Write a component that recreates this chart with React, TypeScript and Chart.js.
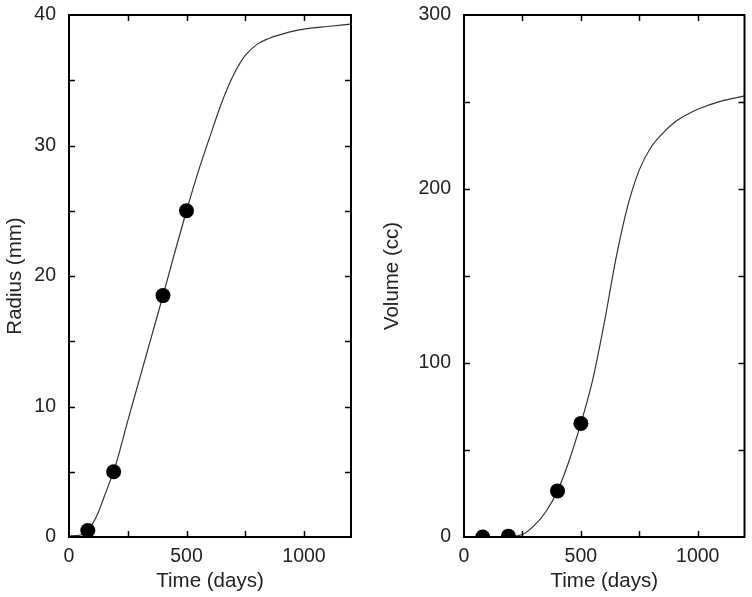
import React, { useEffect, useRef } from 'react';
import { Chart, registerables } from 'chart.js';

Chart.register(...registerables);

const FONT = "'Liberation Sans', Arial, Helvetica, sans-serif";

// Tick labels and tick-mark positions
const timeTickLabels = [0, 500, 1000];
const timeTickMarks = [250, 500, 750, 1000];
const radiusTickLabels = [0, 10, 20, 30, 40];
const radiusTickMarks = [5, 10, 15, 20, 25, 30, 35];
const volumeTickLabels = [0, 100, 200, 300];
const volumeTickMarks = [50, 100, 150, 200, 250];

// Observed data (filled circles)
const obsTimeRadius = [80, 190, 400, 500];
const obsRadius = [0.5, 5, 18.5, 25];
const obsTimeVolume = [80, 190, 400, 500];
const obsVolume = [0, 0.5, 26.5, 65.3];

// Fitted curves
const fitTimeRadius = [0, 25, 50, 80, 100, 125, 150, 175, 200, 250, 300, 350, 400, 450, 500, 550, 600, 650, 700, 750, 800, 850, 900, 950, 1000, 1100, 1200];
const fitRadius = [0.08, 0.1, 0.15, 0.5, 1.0, 1.9, 3.1, 4.3, 5.6, 8.9, 12.1, 15.3, 18.5, 21.8, 25.0, 28.0, 30.7, 33.3, 35.4, 36.9, 37.75, 38.2, 38.5, 38.75, 38.92, 39.12, 39.3];
const fitTimeVolume = [0, 50, 100, 150, 200, 250, 300, 350, 400, 450, 500, 550, 600, 650, 700, 750, 800, 850, 900, 950, 1000, 1100, 1200];
const fitVolume = [0, 0, 0, 0.1, 0.3, 1.4, 6.5, 14.5, 26.5, 44, 65.3, 90, 123, 160, 190, 211, 224, 232, 238.2, 242.5, 245.8, 250.5, 253.5];

const frameTicks = {
  id: 'frameTicks',
  afterDraw(chart: any, _args: any, opts: any) {
    const { ctx, chartArea } = chart;
    const { left, right, top, bottom } = chartArea;
    const xs = chart.scales.x;
    const ys = chart.scales.y;
    const len = 6;
    ctx.save();
    ctx.strokeStyle = '#000';
    ctx.lineWidth = 1.5;
    ctx.beginPath();
    for (const v of opts.xMarks) {
      const px = Math.round(xs.getPixelForValue(v)) + 0.5;
      ctx.moveTo(px, bottom);
      ctx.lineTo(px, bottom - len);
      ctx.moveTo(px, top);
      ctx.lineTo(px, top + len);
    }
    for (const v of opts.yMarks) {
      const py = Math.round(ys.getPixelForValue(v)) + 0.5;
      ctx.moveTo(left, py);
      ctx.lineTo(left + len, py);
      ctx.moveTo(right, py);
      ctx.lineTo(right - len, py);
    }
    ctx.stroke();
    ctx.lineWidth = 2;
    ctx.strokeRect(left, top, right - left, bottom - top);
    ctx.restore();
  },
};

type PanelProps = {
  left: number;
  axisWidth: number;
  rightPad: number;
  titlePad: number;
  yMax: number;
  yLabels: number[];
  yMarks: number[];
  yTitle: string;
  obsX: number[];
  obsY: number[];
  fitX: number[];
  fitY: number[];
};

function Panel(p: PanelProps) {
  const ref = useRef<HTMLCanvasElement | null>(null);
  useEffect(() => {
    if (!ref.current) return;
    const chart = new Chart(ref.current, {
      type: 'scatter',
      data: {
        datasets: [
          {
            data: p.obsX.map((x, i) => ({ x, y: p.obsY[i] })),
            pointRadius: 7.5,
            pointHoverRadius: 7.5,
            pointBackgroundColor: '#000',
            pointBorderColor: '#000',
            pointBorderWidth: 0,
            showLine: false,
          },
          {
            data: p.fitX.map((x, i) => ({ x, y: p.fitY[i] })),
            showLine: true,
            pointRadius: 0,
            borderColor: '#333',
            borderWidth: 1.2,
            cubicInterpolationMode: 'monotone',
          },
        ],
      },
      options: {
        responsive: false,
        animation: false,
        devicePixelRatio: 1,
        layout: { padding: { top: 15, right: p.rightPad, left: 0, bottom: 0 } },
        plugins: {
          legend: { display: false },
          tooltip: { enabled: false },
          frameTicks: { xMarks: timeTickMarks, yMarks: p.yMarks },
        } as any,
        scales: {
          x: {
            type: 'linear',
            min: 0,
            max: 1200,
            grid: { display: false, drawTicks: false },
            border: { display: false },
            afterBuildTicks: (s: any) => {
              s.ticks = timeTickLabels.map((v) => ({ value: v }));
            },
            afterFit: (s: any) => {
              s.height = 60;
              s.paddingLeft = 0;
              s.paddingRight = 0;
            },
            ticks: {
              padding: 8,
              color: '#222',
              font: { family: FONT, size: 19.5 },
              maxRotation: 0,
              callback: (v: any) => String(v),
            },
            title: {
              display: true,
              text: 'Time (days)',
              color: '#222',
              font: { family: FONT, size: 20.5 },
              padding: { top: 0, bottom: 3.7 },
            },
          },
          y: {
            type: 'linear',
            min: 0,
            max: p.yMax,
            grid: { display: false, drawTicks: false },
            border: { display: false },
            afterBuildTicks: (s: any) => {
              s.ticks = p.yLabels.map((v) => ({ value: v }));
            },
            afterFit: (s: any) => {
              s.width = p.axisWidth;
              s.paddingTop = 0;
              s.paddingBottom = 0;
            },
            ticks: {
              padding: 13,
              color: '#222',
              font: { family: FONT, size: 19.5 },
              callback: (v: any) => String(v),
            },
            title: {
              display: true,
              text: p.yTitle,
              color: '#222',
              font: { family: FONT, size: 20.5 },
              padding: { top: p.titlePad, bottom: 0 },
            },
          },
        },
      },
      plugins: [frameTicks],
    } as any);
    return () => chart.destroy();
  }, []);
  return (
    <div style={{ position: 'absolute', left: p.left, top: 0, width: 376, height: 597 }}>
      <canvas ref={ref} width={376} height={597} style={{ width: 376, height: 597, display: 'block' }} />
    </div>
  );
}

export default function App() {
  return (
    <div style={{ position: 'absolute', left: 0, top: 0, width: 752, height: 597, background: '#fff' }}>
      <Panel
        left={0}
        axisWidth={69}
        rightPad={25}
        titlePad={2.7}
        yMax={40}
        yLabels={radiusTickLabels}
        yMarks={radiusTickMarks}
        yTitle="Radius (mm)"
        obsX={obsTimeRadius}
        obsY={obsRadius}
        fitX={fitTimeRadius}
        fitY={fitRadius}
      />
      <Panel
        left={376}
        axisWidth={88}
        rightPad={6}
        titlePad={3.7}
        yMax={300}
        yLabels={volumeTickLabels}
        yMarks={volumeTickMarks}
        yTitle="Volume (cc)"
        obsX={obsTimeVolume}
        obsY={obsVolume}
        fitX={fitTimeVolume}
        fitY={fitVolume}
      />
    </div>
  );
}
